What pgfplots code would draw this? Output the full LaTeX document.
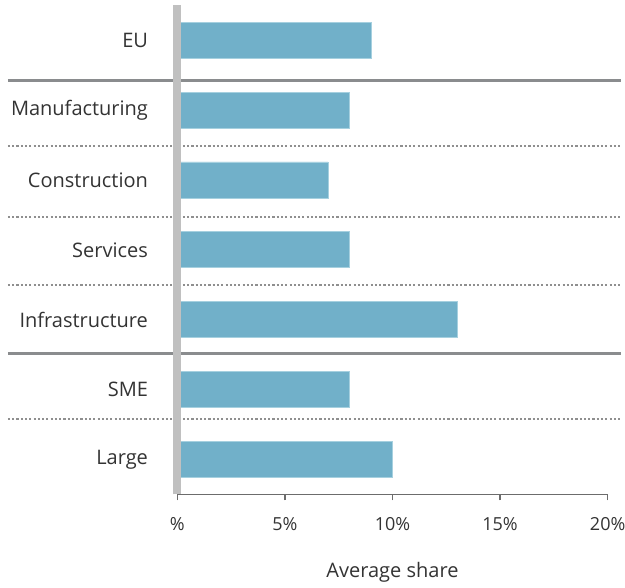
\documentclass[border=0pt]{standalone}
\usepackage{pgfplots}
\pgfplotsset{compat=1.18}
\usepackage{fontspec}
\setmainfont{Open Sans}
\definecolor{barblue}{HTML}{71B0C9}
\definecolor{baredge}{HTML}{A6D0DF}
\definecolor{sepgray}{HTML}{8A8C8E}
\definecolor{dotgray}{HTML}{8F8F8F}
\definecolor{zerogray}{HTML}{C0C0C0}
\definecolor{txt}{HTML}{333333}
\begin{document}
\begin{tikzpicture}
\path[use as bounding box] (-133pt,-70.3pt) rectangle (335.8pt,370.75pt);
\begin{axis}[
  at={(0,0)}, anchor=south west,
  scale only axis,
  width=322.8pt, height=366.75pt,
  xmin=0, xmax=20, ymin=-0.5, ymax=6.5,
  xbar, bar width=27pt,
  clip=false,
  axis x line*=bottom,
  axis y line*=left,
  y axis line style={draw=none},
  x axis line style={draw=gray!85!black, line width=1.1pt},
  xtick={0,5,10,15,20},
  xticklabels={\%,5\%,10\%,15\%,20\%},
  tick align=outside,
  major tick length=4.5pt,
  xtick style={draw=gray!85!black, line width=1.1pt},
  ytick={0,1,2,3,4,5,6},
  yticklabels={Large,SME,Infrastructure,Services,Construction,Manufacturing,EU},
  ytick style={draw=none},
  yticklabel style={font=\fontsize{15}{17}\selectfont, text=txt, anchor=east, xshift=-14pt},
  xticklabel style={font=\fontsize{13.5}{16}\selectfont, text=txt, yshift=-9.5pt},
  /pgf/number format/assume math mode=true,
  xlabel={Average share},
  xlabel style={font=\fontsize{15}{17}\selectfont, text=txt, yshift=-17pt},
]
\addplot[fill=barblue, draw=baredge, line width=0.6pt] coordinates {
  (10,0) (8,1) (13,2) (8,3) (7,4) (8,5) (9,6)
};
% separators
\draw[sepgray, line width=2.4pt] (axis cs:-7.87,5.42) -- (axis cs:20.62,5.42);
\draw[sepgray, line width=2.4pt] (axis cs:-7.87,1.52) -- (axis cs:20.62,1.52);
\pgfplotsinvokeforeach{4.48,3.47,2.50,0.58}{
  \draw[dotgray, line width=1.6pt, dash pattern=on 1.6pt off 1.6pt] (axis cs:-7.87,#1) -- (axis cs:20.62,#1);
}
% zero line
\draw[zerogray, line width=5.8pt] (axis cs:0,-0.5) -- (axis cs:0,6.5);
\end{axis}
\end{tikzpicture}
\end{document}
